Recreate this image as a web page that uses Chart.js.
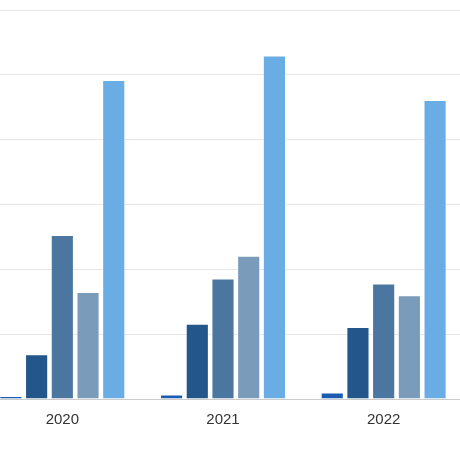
<!DOCTYPE html>
<html lang="en">
<head>
    <meta charset="UTF-8">
    <title>Grouped bars 2020-2022</title>
    <script src="https://cdn.jsdelivr.net/npm/chart.js"></script>
    <style>
        html, body { margin: 0; padding: 0; background: #fff; }
        #frame { position: relative; width: 460px; height: 460px; overflow: hidden; }
        /* the reference is a crop, so the plot runs past both edges */
        #wrap { position: absolute; left: -18px; top: 0; width: 482px; height: 460px; }
    </style>
</head>
<body>
    <div id="frame">
        <div id="wrap">
            <canvas id="barChart"></canvas>
        </div>
    </div>
    <script>
        // categories (x axis)
        const years = ['2020', '2021', '2022'];

        // series values
        const series1 = [0.45, 0.7, 1.0];
        const series2 = [6.9, 11.6, 11.1];
        const series3 = [25.3, 18.6, 17.8];
        const series4 = [16.5, 22.1, 16.0];
        const series5 = [49.2, 53.0, 46.1];

        const seriesNames = ['A', 'B', 'C', 'D', 'E'];
        const seriesColors = ['#1a5db0', '#23568a', '#4b76a0', '#7b9bbb', '#6aade4'];

        const ctx = document.getElementById('barChart').getContext('2d');

        const barChart = new Chart(ctx, {
            type: 'bar',
            data: {
                labels: years,
                datasets: [series1, series2, series3, series4, series5].map((d, i) => ({
                    label: seriesNames[i],
                    data: d,
                    backgroundColor: seriesColors[i],
                    borderColor: 'rgba(255,255,255,0.45)',
                    borderWidth: 1
                }))
            },
            options: {
                responsive: true,
                maintainAspectRatio: false,
                animation: false,
                layout: {
                    padding: { top: 10, bottom: 27, left: 0, right: 0 }
                },
                plugins: {
                    legend: { display: false },
                    tooltip: { enabled: false }
                },
                scales: {
                    x: {
                        grid: { display: false },
                        border: { color: '#cccccc', width: 1 },
                        ticks: {
                            color: '#333333',
                            padding: 4,
                            font: { family: 'Liberation Sans, Arial', size: 15 }
                        }
                    },
                    y: {
                        min: 0,
                        max: 60,
                        ticks: { display: false, stepSize: 10 },
                        border: { display: false },
                        grid: { color: '#e6e6e6', drawTicks: false },
                        afterFit: function(scale) { scale.width = 0; }
                    }
                }
            }
        });
    </script>
</body>
</html>
